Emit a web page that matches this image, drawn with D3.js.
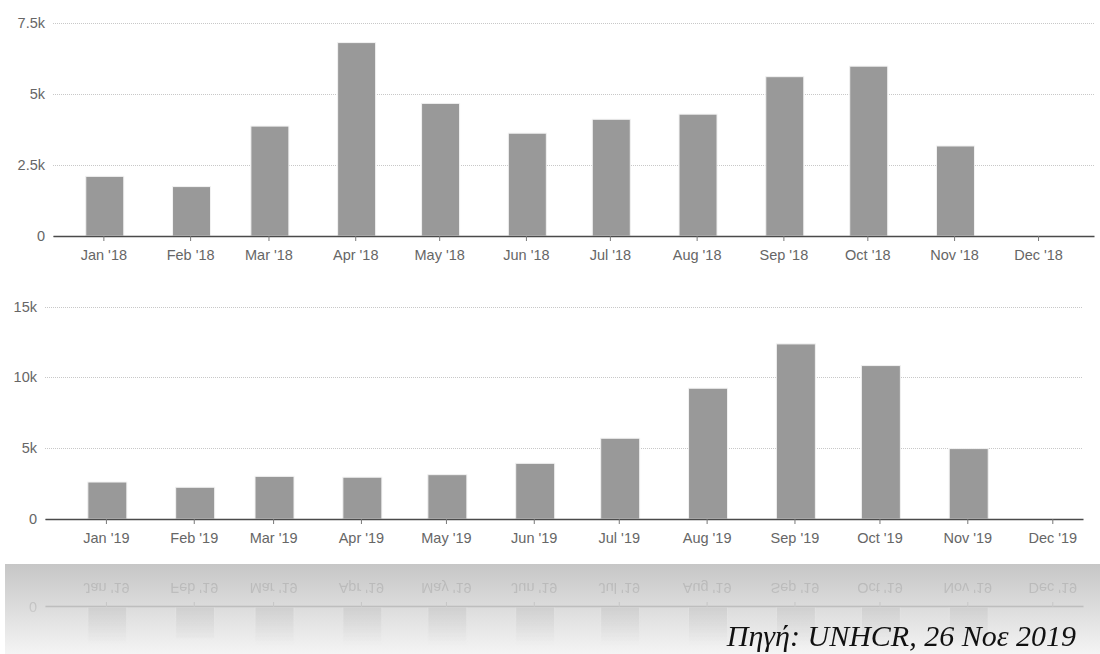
<!DOCTYPE html>
<html>
<head>
<meta charset="utf-8">
<script src="https://cdnjs.cloudflare.com/ajax/libs/d3/7.8.5/d3.min.js"></script>
<style>
  html, body { margin: 0; padding: 0; background: #ffffff; }
  svg { display: block; }
  .tick text { font-family: "Liberation Sans", Arial, sans-serif; }
</style>
</head>
<body>
<svg id="chart" width="1100" height="654"></svg>
<script>
// Monthly arrivals, 2018 and 2019
const months2018 = ["Jan '18", "Feb '18", "Mar '18", "Apr '18", "May '18", "Jun '18",
                    "Jul '18", "Aug '18", "Sep '18", "Oct '18", "Nov '18", "Dec '18"];
const values2018 = [2100, 1740, 3870, 6810, 4670, 3620, 4110, 4290, 5610, 5980, 3170, null];

const months2019 = ["Jan '19", "Feb '19", "Mar '19", "Apr '19", "May '19", "Jun '19",
                    "Jul '19", "Aug '19", "Sep '19", "Oct '19", "Nov '19", "Dec '19"];
const values2019 = [2610, 2240, 3010, 2950, 3130, 3930, 5700, 9230, 12360, 10830, 4970, null];

const yTicks2018 = [0, 2500, 5000, 7500];
const yLabels2018 = ["0", "2.5k", "5k", "7.5k"];
const yTicks2019 = [0, 5000, 10000, 15000];
const yLabels2019 = ["0", "5k", "10k", "15k"];

const sourceText = "Πηγή: UNHCR, 26 Νοε 2019";

const svg = d3.select("#chart");
const defs = svg.append("defs");

// mid-month dates for ticks, bars sit half a day later
const midMonth = (year) => d3.range(12).map(m => new Date(year, m, 15));
const barDate = d => d3.timeHour.offset(d, 12);

function drawPanel(g, p) {
  const x = p.x, y = p.y;
  const [x0, x1] = x.range();
  const dates = midMonth(p.year);

  // y labels and dotted grid
  const yAxis = g.append("g")
    .attr("transform", `translate(${x0},0)`)
    .call(d3.axisLeft(y)
      .tickValues(p.yTicks)
      .tickFormat((d, i) => p.yLabels[i])
      .tickSize(-(x1 - x0))
      .tickPadding(8));
  yAxis.select(".domain").remove();
  yAxis.selectAll(".tick line")
    .attr("stroke", "#c8c8c8")
    .attr("stroke-dasharray", "1,1")
    .attr("shape-rendering", "crispEdges");
  yAxis.selectAll(".tick text")
    .attr("fill", "#666")
    .style("font-size", "14.5px");

  // bars
  g.append("g").selectAll("rect")
    .data(p.values.map((v, i) => ({ v, d: dates[i] })).filter(o => o.v != null))
    .join("rect")
    .attr("x", o => x(barDate(o.d)) - p.barW / 2)
    .attr("width", p.barW)
    .attr("y", o => y(o.v))
    .attr("height", o => y(0) - y(o.v))
    .attr("fill", "#999999")
    .attr("stroke", "#f2f2f2")
    .attr("stroke-width", 1);

  // x axis
  const xAxis = g.append("g")
    .attr("transform", `translate(0,${y(0)})`)
    .call(d3.axisBottom(x)
      .tickValues(dates)
      .tickFormat((d, i) => p.labels[i])
      .tickSize(5)
      .tickSizeOuter(0)
      .tickPadding(9));
  xAxis.select(".domain")
    .attr("stroke", "#4a4a4a")
    .attr("stroke-width", 1.6);
  xAxis.selectAll(".tick line").attr("stroke", "#777");
  xAxis.selectAll(".tick text")
    .attr("fill", "#666")
    .style("font-size", "14.5px");
}

// 2018 panel
const panel2018 = {
  year: 2018,
  x: d3.scaleTime().domain([new Date(2017, 11, 28), new Date(2019, 0, 4)]).range([53, 1094]),
  y: d3.scaleLinear().domain([0, 7500]).range([236, 23]),
  values: values2018, labels: months2018,
  yTicks: yTicks2018, yLabels: yLabels2018,
  barW: 38
};

// 2019 panel
const panel2019 = {
  year: 2019,
  x: d3.scaleTime().domain([new Date(2018, 11, 24, 12), new Date(2019, 11, 25, 20)]).range([45, 1083]),
  y: d3.scaleLinear().domain([0, 15000]).range([519, 306.5]),
  values: values2019, labels: months2019,
  yTicks: yTicks2019, yLabels: yLabels2019,
  barW: 39
};

drawPanel(svg.append("g"), panel2018);
drawPanel(svg.append("g"), panel2019);

// mirrored strip under the 2019 panel
const band = { x: 5, y: 564, w: 1095, h: 90 };
const bandGrad = defs.append("linearGradient")
  .attr("id", "bandGrad").attr("x1", 0).attr("y1", 0).attr("x2", 0).attr("y2", 1);
bandGrad.append("stop").attr("offset", "0%").attr("stop-color", "#c6c6c6");
bandGrad.append("stop").attr("offset", "100%").attr("stop-color", "#f4f4f4");

defs.append("clipPath").attr("id", "bandClip")
  .append("rect").attr("x", band.x).attr("y", band.y).attr("width", band.w).attr("height", band.h);

const fadeGrad = defs.append("linearGradient")
  .attr("id", "fadeGrad").attr("gradientUnits", "userSpaceOnUse")
  .attr("x1", 0).attr("y1", band.y).attr("x2", 0).attr("y2", band.y + band.h);
fadeGrad.append("stop").attr("offset", "0%").attr("stop-color", "#fff");
fadeGrad.append("stop").attr("offset", "45%").attr("stop-color", "#fff");
fadeGrad.append("stop").attr("offset", "90%").attr("stop-color", "#000");
defs.append("mask").attr("id", "fadeMask")
  .attr("maskUnits", "userSpaceOnUse")
  .attr("x", 0).attr("y", band.y).attr("width", 1100).attr("height", band.h)
  .append("rect").attr("x", 0).attr("y", band.y).attr("width", 1100).attr("height", band.h)
  .attr("fill", "url(#fadeGrad)");

defs.append("filter").attr("id", "soft")
  .attr("x", "-5%").attr("y", "-5%").attr("width", "110%").attr("height", "110%")
  .append("feGaussianBlur").attr("stdDeviation", 0.7);

svg.append("rect")
  .attr("x", band.x).attr("y", band.y).attr("width", band.w).attr("height", band.h)
  .attr("fill", "url(#bandGrad)");

const mirrorAxis = band.y - 1;
const reflection = svg.append("g")
  .attr("clip-path", "url(#bandClip)")
  .append("g").attr("mask", "url(#fadeMask)")
  .append("g")
  .attr("opacity", 0.2)
  .attr("filter", "url(#soft)")
  .append("g")
  .attr("transform", `translate(0,${2 * mirrorAxis}) scale(1,-1)`);
// only the baseline label falls inside the strip
drawPanel(reflection, { ...panel2019, yTicks: yTicks2019.slice(0, 1), yLabels: yLabels2019.slice(0, 1) });

// source note
svg.append("text")
  .attr("x", 1076)
  .attr("y", 646)
  .attr("text-anchor", "end")
  .attr("fill", "#111")
  .style("font-family", "'Liberation Serif', 'Times New Roman', serif")
  .style("font-style", "italic")
  .style("font-size", "30px")
  .text(sourceText);
</script>
</body>
</html>
